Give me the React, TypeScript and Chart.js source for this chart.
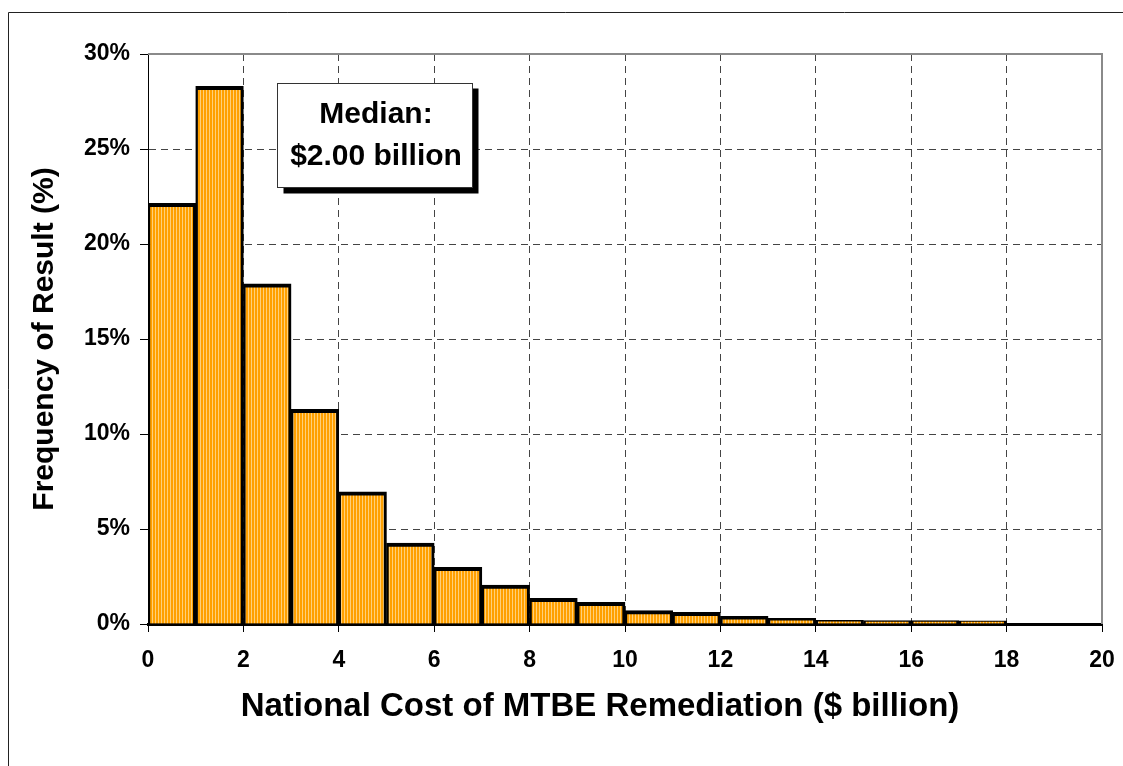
import React, { useEffect, useRef } from 'react';
import { Chart, registerables } from 'chart.js';

Chart.register(...registerables);

// ---- data ----
const binStarts = [0, 1, 2, 3, 4, 5, 6, 7, 8, 9, 10, 11, 12, 13, 14, 15, 16, 17, 18, 19];
const frequencies = [22.14, 28.3, 17.9, 11.3, 6.95, 4.26, 2.98, 2.05, 1.35, 1.14, 0.7, 0.61, 0.4, 0.3, 0.19, 0.18, 0.18, 0.17, 0, 0];
const binWidth = 1;
const xMin = 0;
const xMax = 20;
const xStep = 2;
const yMin = 0;
const yMax = 30;
const yStep = 5;
const xTitle = 'National Cost of MTBE Remediation ($ billion)';
const yTitle = 'Frequency of Result (%)';
const annotationLines = ['Median:', '$2.00 billion'];
// annotation box corners in data units (x in $ billion, y in %)
const annotationX = [2.7, 6.79];
const annotationY = [28.5, 23.0];

const FONT = "'Liberation Sans', Arial, Helvetica, sans-serif";

function makeStripePattern(ctx: CanvasRenderingContext2D): CanvasPattern | string {
  const c = document.createElement('canvas');
  c.width = 3;
  c.height = 4;
  const g = c.getContext('2d');
  if (!g) return '#FFA500';
  g.fillStyle = '#FFA000';
  g.fillRect(0, 0, 3, 4);
  g.fillStyle = '#FFD07A';
  g.fillRect(2, 0, 1, 4);
  return ctx.createPattern(c, 'repeat') || '#FFA500';
}

const decorPlugin = {
  id: 'decor',
  beforeDraw(chart: any) {
    const { ctx, width, height } = chart;
    ctx.save();
    ctx.fillStyle = '#ffffff';
    ctx.fillRect(0, 0, width, height);
    // outer frame (top + left visible)
    ctx.strokeStyle = '#222';
    ctx.lineWidth = 1;
    ctx.beginPath();
    ctx.moveTo(8.5, height);
    ctx.lineTo(8.5, 12.5);
    ctx.lineTo(width, 12.5);
    ctx.stroke();
    ctx.restore();
  },
  afterDraw(chart: any) {
    const { ctx, chartArea } = chart;
    const xs = chart.scales.x;
    const ys = chart.scales.y;
    ctx.save();
    // plot area border top/right
    ctx.strokeStyle = '#8a8a8a';
    ctx.lineWidth = 2;
    ctx.beginPath();
    ctx.moveTo(chartArea.left, chartArea.top);
    ctx.lineTo(chartArea.right, chartArea.top);
    ctx.lineTo(chartArea.right, chartArea.bottom);
    ctx.stroke();

    // annotation box
    const bx0 = Math.round(xs.getPixelForValue(annotationX[0])) + 0.5;
    const bx1 = Math.round(xs.getPixelForValue(annotationX[1])) + 0.5;
    const by0 = Math.round(ys.getPixelForValue(annotationY[0])) + 0.5;
    const by1 = Math.round(ys.getPixelForValue(annotationY[1])) + 0.5;
    const bw = bx1 - bx0;
    const bh = by1 - by0;
    ctx.fillStyle = '#000';
    ctx.fillRect(bx0 + 6, by0 + 5, bw, bh + 1);
    ctx.fillStyle = '#fff';
    ctx.fillRect(bx0, by0, bw, bh);
    ctx.strokeStyle = '#333';
    ctx.lineWidth = 1;
    ctx.strokeRect(bx0, by0, bw, bh);
    ctx.fillStyle = '#000';
    ctx.font = `bold 30px ${FONT}`;
    ctx.textAlign = 'center';
    ctx.textBaseline = 'alphabetic';
    const cx = (bx0 + bx1) / 2 + 1;
    ctx.fillText(annotationLines[0], cx, by0 + 39);
    ctx.fillText(annotationLines[1], cx, by0 + 81);

    // x axis title
    ctx.font = `bold 33px ${FONT}`;
    ctx.textAlign = 'center';
    ctx.textBaseline = 'alphabetic';
    ctx.fillText(xTitle, (chartArea.left + chartArea.right) / 2 - 25, chartArea.bottom + 92);
    ctx.restore();
  },
};

export default function App() {
  const canvasRef = useRef<HTMLCanvasElement | null>(null);

  useEffect(() => {
    const canvas = canvasRef.current;
    if (!canvas) return;
    const ctx = canvas.getContext('2d');
    if (!ctx) return;
    const pattern = makeStripePattern(ctx);

    const points = binStarts.map((b, i) => ({ x: b + binWidth / 2, y: frequencies[i] }));

    const chart = new Chart(ctx, {
      type: 'bar',
      data: {
        datasets: [
          {
            label: 'Frequency',
            data: points as any,
            backgroundColor: pattern as any,
            borderColor: '#000',
            borderWidth: { top: 4, left: 2.5, right: 3, bottom: 0 } as any,
            borderSkipped: 'start',
            categoryPercentage: 1,
            barPercentage: 1,
          },
        ],
      },
      options: {
        responsive: false,
        maintainAspectRatio: false,
        animation: false,
        layout: { padding: { top: 54, right: 21, left: 0, bottom: 0 } },
        plugins: {
          legend: { display: false },
          tooltip: { enabled: false },
        },
        scales: {
          x: {
            type: 'linear',
            min: xMin,
            max: xMax,
            offset: false,
            afterFit(scale: any) {
              scale.height = 142;
              scale.paddingLeft = 0;
              scale.paddingRight = 0;
            },
            ticks: {
              stepSize: xStep,
              color: '#000',
              font: { family: FONT, size: 23, weight: 'bold' },
              padding: 15,
              maxRotation: 0,
            },
            grid: {
              offset: false,
              color: '#444',
              lineWidth: 1,
              tickLength: 8,
              tickColor: '#000',
              tickWidth: 1,
            },
            border: { display: true, color: '#000', width: 3, dash: [7, 5] },
            title: { display: false },
          },
          y: {
            type: 'linear',
            min: yMin,
            max: yMax,
            afterFit(scale: any) {
              scale.width = 148;
              scale.paddingTop = 0;
              scale.paddingBottom = 0;
            },
            ticks: {
              stepSize: yStep,
              color: '#000',
              font: { family: FONT, size: 23, weight: 'bold' },
              padding: 10,
              callback: (v: any) => `${v}%`,
            },
            grid: {
              color: '#444',
              lineWidth: 1,
              tickLength: 8,
              tickColor: '#000',
              tickWidth: 1,
            },
            border: { display: true, color: '#000', width: 1, dash: [7, 5] },
            title: {
              display: true,
              text: yTitle,
              color: '#000',
              font: { family: FONT, size: 30, weight: 'bold' },
              padding: { top: 27, bottom: 0 },
            },
          },
        },
      },
      plugins: [decorPlugin],
    });

    return () => {
      chart.destroy();
    };
  }, []);

  return (
    <div style={{ position: 'absolute', left: 0, top: 0, width: 1123, height: 766 }}>
      <canvas ref={canvasRef} width={1123} height={766} style={{ display: 'block' }} />
    </div>
  );
}
